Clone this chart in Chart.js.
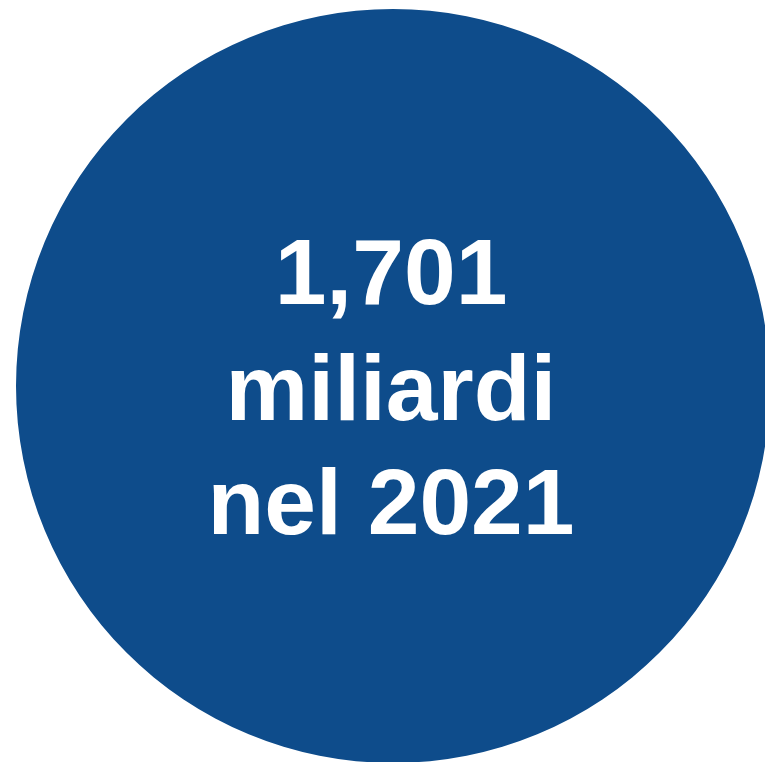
<!DOCTYPE html>
<html>
<head>
<meta charset="utf-8">
<script src="https://cdn.jsdelivr.net/npm/chart.js@4/dist/chart.umd.min.js"></script>
<style>
  html, body { margin: 0; padding: 0; background: #fff; overflow: hidden; width: 765px; height: 762px; }
  #wrap { position: absolute; left: 16px; top: 9px; width: 754px; height: 754px; }
</style>
</head>
<body>
<div id="wrap"><canvas id="canvas-chart"></canvas></div>
<script>
// dati
var categories = ['2021'];
var values = [1.701];
var textLines = ['1,701', 'miliardi', 'nel 2021'];

// scrive le righe al centro del cerchio
var centerText = {
    id: 'centerText',
    afterDraw: function (chart) {
        var ctx = chart.ctx;
        var arc = chart.getDatasetMeta(0).data[0];
        var cx = arc.x, cy = arc.y;
        var offsets = [-82, 34, 148]; // baseline rispetto al centro
        ctx.save();
        ctx.fillStyle = '#ffffff';
        ctx.font = 'bold 93px "Liberation Sans", Arial, sans-serif';
        ctx.textAlign = 'center';
        ctx.textBaseline = 'alphabetic';
        textLines.forEach(function (line, i) {
            ctx.fillText(line, cx - 2, cy + offsets[i]);
        });
        ctx.restore();
    }
};

var chart = new Chart(document.getElementById('canvas-chart').getContext('2d'), {
    type: 'pie',
    data: {
        labels: categories,
        datasets: [{
            data: values,
            backgroundColor: '#0E4C8B',
            borderWidth: 0,
        }],
    },
    options: {
        responsive: true,
        maintainAspectRatio: false,
        animation: false,
        layout: { padding: 0 },
        plugins: {
            legend: { display: false },
            tooltip: { enabled: false },
        },
    },
    plugins: [centerText],
});
</script>
</body>
</html>
